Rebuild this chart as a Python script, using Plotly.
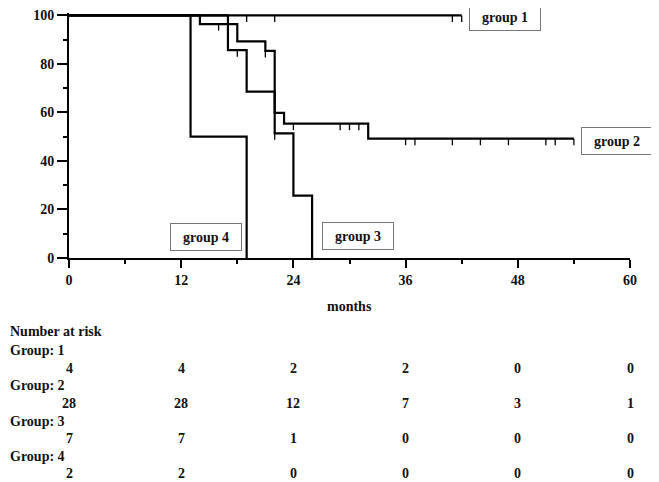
import plotly.graph_objects as go

# x axis ticks (months) - also the columns of the risk table
months = [0, 12, 24, 36, 48, 60]

# Kaplan-Meier steps (survival in %)
g1_time = [0, 42]
g1_surv = [100, 100]
g1_cens = [19, 22, 41, 42]

g2_time = [0, 14, 18, 21, 22, 23, 32, 54]
g2_surv = [100, 96.4, 89.3, 85.4, 59.8, 55.4, 49.2, 49.2]
g2_cens = [16, 21, 24, 29, 30, 31, 36, 37, 41, 44, 47, 51, 52, 54]

g3_time = [0, 17, 19, 22, 24, 26]
g3_surv = [100, 85.7, 68.6, 51.4, 25.7, 0]
g3_cens = [18, 22]

g4_time = [0, 13, 19]
g4_surv = [100, 50, 0]
g4_cens = []

# number at risk
risk_labels = ["Group: 1", "Group: 2", "Group: 3", "Group: 4"]
risk_g1 = [4, 4, 2, 2, 0, 0]
risk_g2 = [28, 28, 12, 7, 3, 1]
risk_g3 = [7, 7, 1, 0, 0, 0]
risk_g4 = [2, 2, 0, 0, 0, 0]

FONT = "Liberation Serif"
INK = "#111111"

W, H = 659, 482
# page body has an 8px margin, so the figure sits 8px right/down in the window
OFF = 8
ML, MR, MT, MB = 69 - OFF, 29 + OFF, 13 - OFF, 224 + OFF
PLOT_H = H - MT - MB
PLOT_W = W - ML - MR


def py(Y):
    # window pixel row -> paper y
    return (H - MB + OFF - Y) / PLOT_H


def px(X):
    return (X - ML - OFF) / PLOT_W


def surv_at(times, surv, t):
    s = surv[0]
    for ti, si in zip(times, surv):
        if ti <= t:
            s = si
    return s


fig = go.Figure()

groups = [
    (g1_time, g1_surv, g1_cens),
    (g2_time, g2_surv, g2_cens),
    (g3_time, g3_surv, g3_cens),
    (g4_time, g4_surv, g4_cens),
]

for times, surv, cens in groups:
    fig.add_trace(go.Scatter(x=times, y=surv, mode="lines", line_shape="hv",
                             line=dict(color="black", width=2.2), hoverinfo="skip"))
    # censoring marks hang down from the curve
    cx, cy = [], []
    for t in cens:
        s = surv_at(times, surv, t)
        cx += [t, t, None]
        cy += [s, s - 2.7, None]
    if cx:
        fig.add_trace(go.Scatter(x=cx, y=cy, mode="lines",
                                 line=dict(color="black", width=1.3), hoverinfo="skip"))

bold = dict(family=FONT, size=14, color=INK, weight="bold")

# group labels in boxes
boxes = [("group 1", 46.6, 99.3), ("group 2", 58.6, 48.1),
         ("group 3", 30.9, 8.9), ("group 4", 14.6, 8.5)]
for txt, bx, by in boxes:
    fig.add_annotation(x=bx, y=by, xref="x", yref="y", text=txt, showarrow=False,
                       xanchor="center", yanchor="middle",
                       font=bold, width=64, height=20, borderpad=3,
                       bordercolor="#777777", borderwidth=1, bgcolor="white")

# axis title
fig.add_annotation(x=30, y=py(306), xref="x", yref="paper", text="months",
                   showarrow=False, xanchor="center", yanchor="middle", font=bold)

# risk table (left labels can't go left of the figure edge)
LEFT = px(OFF)
fig.add_annotation(x=LEFT, y=py(331.7), xref="paper", yref="paper", text="Number at risk",
                   showarrow=False, xanchor="left", yanchor="middle", font=bold)
label_rows = [350, 385.7, 421, 456.3]
value_rows = [368, 403.3, 438.3, 473.3]
for lab, ly, vy, vals in zip(risk_labels, label_rows, value_rows,
                             [risk_g1, risk_g2, risk_g3, risk_g4]):
    fig.add_annotation(x=LEFT, y=py(ly), xref="paper", yref="paper", text=lab,
                       showarrow=False, xanchor="left", yanchor="middle", font=bold)
    for m, v in zip(months, vals):
        fig.add_annotation(x=m, y=py(vy), xref="x", yref="paper", text=str(v),
                           showarrow=False, xanchor="center", yanchor="middle", font=bold)

fig.update_layout(
    width=W, height=H,
    margin=dict(l=ML, r=MR, t=MT, b=MB, autoexpand=False),
    plot_bgcolor="white", paper_bgcolor="white",
    showlegend=False,
)
fig.update_xaxes(
    range=[0, 60], tick0=0, dtick=12, ticks="outside", ticklen=8, tickwidth=2,
    tickcolor="black", showline=True, linewidth=2, linecolor="black",
    showgrid=False, zeroline=False, tickfont=bold, automargin=False,
    minor=dict(tick0=0, dtick=6, ticks="outside", ticklen=4, tickwidth=1.5,
               tickcolor="black", showgrid=False),
)
fig.update_yaxes(
    range=[0, 101], tick0=0, dtick=20, ticks="outside", ticklen=10, tickwidth=2,
    tickcolor="black", showline=True, linewidth=2, linecolor="black",
    showgrid=False, zeroline=False, tickfont=bold, automargin=False,
    minor=dict(tick0=0, dtick=10, ticks="outside", ticklen=4, tickwidth=1.5,
               tickcolor="black", showgrid=False),
)

fig.write_html("out.html")
